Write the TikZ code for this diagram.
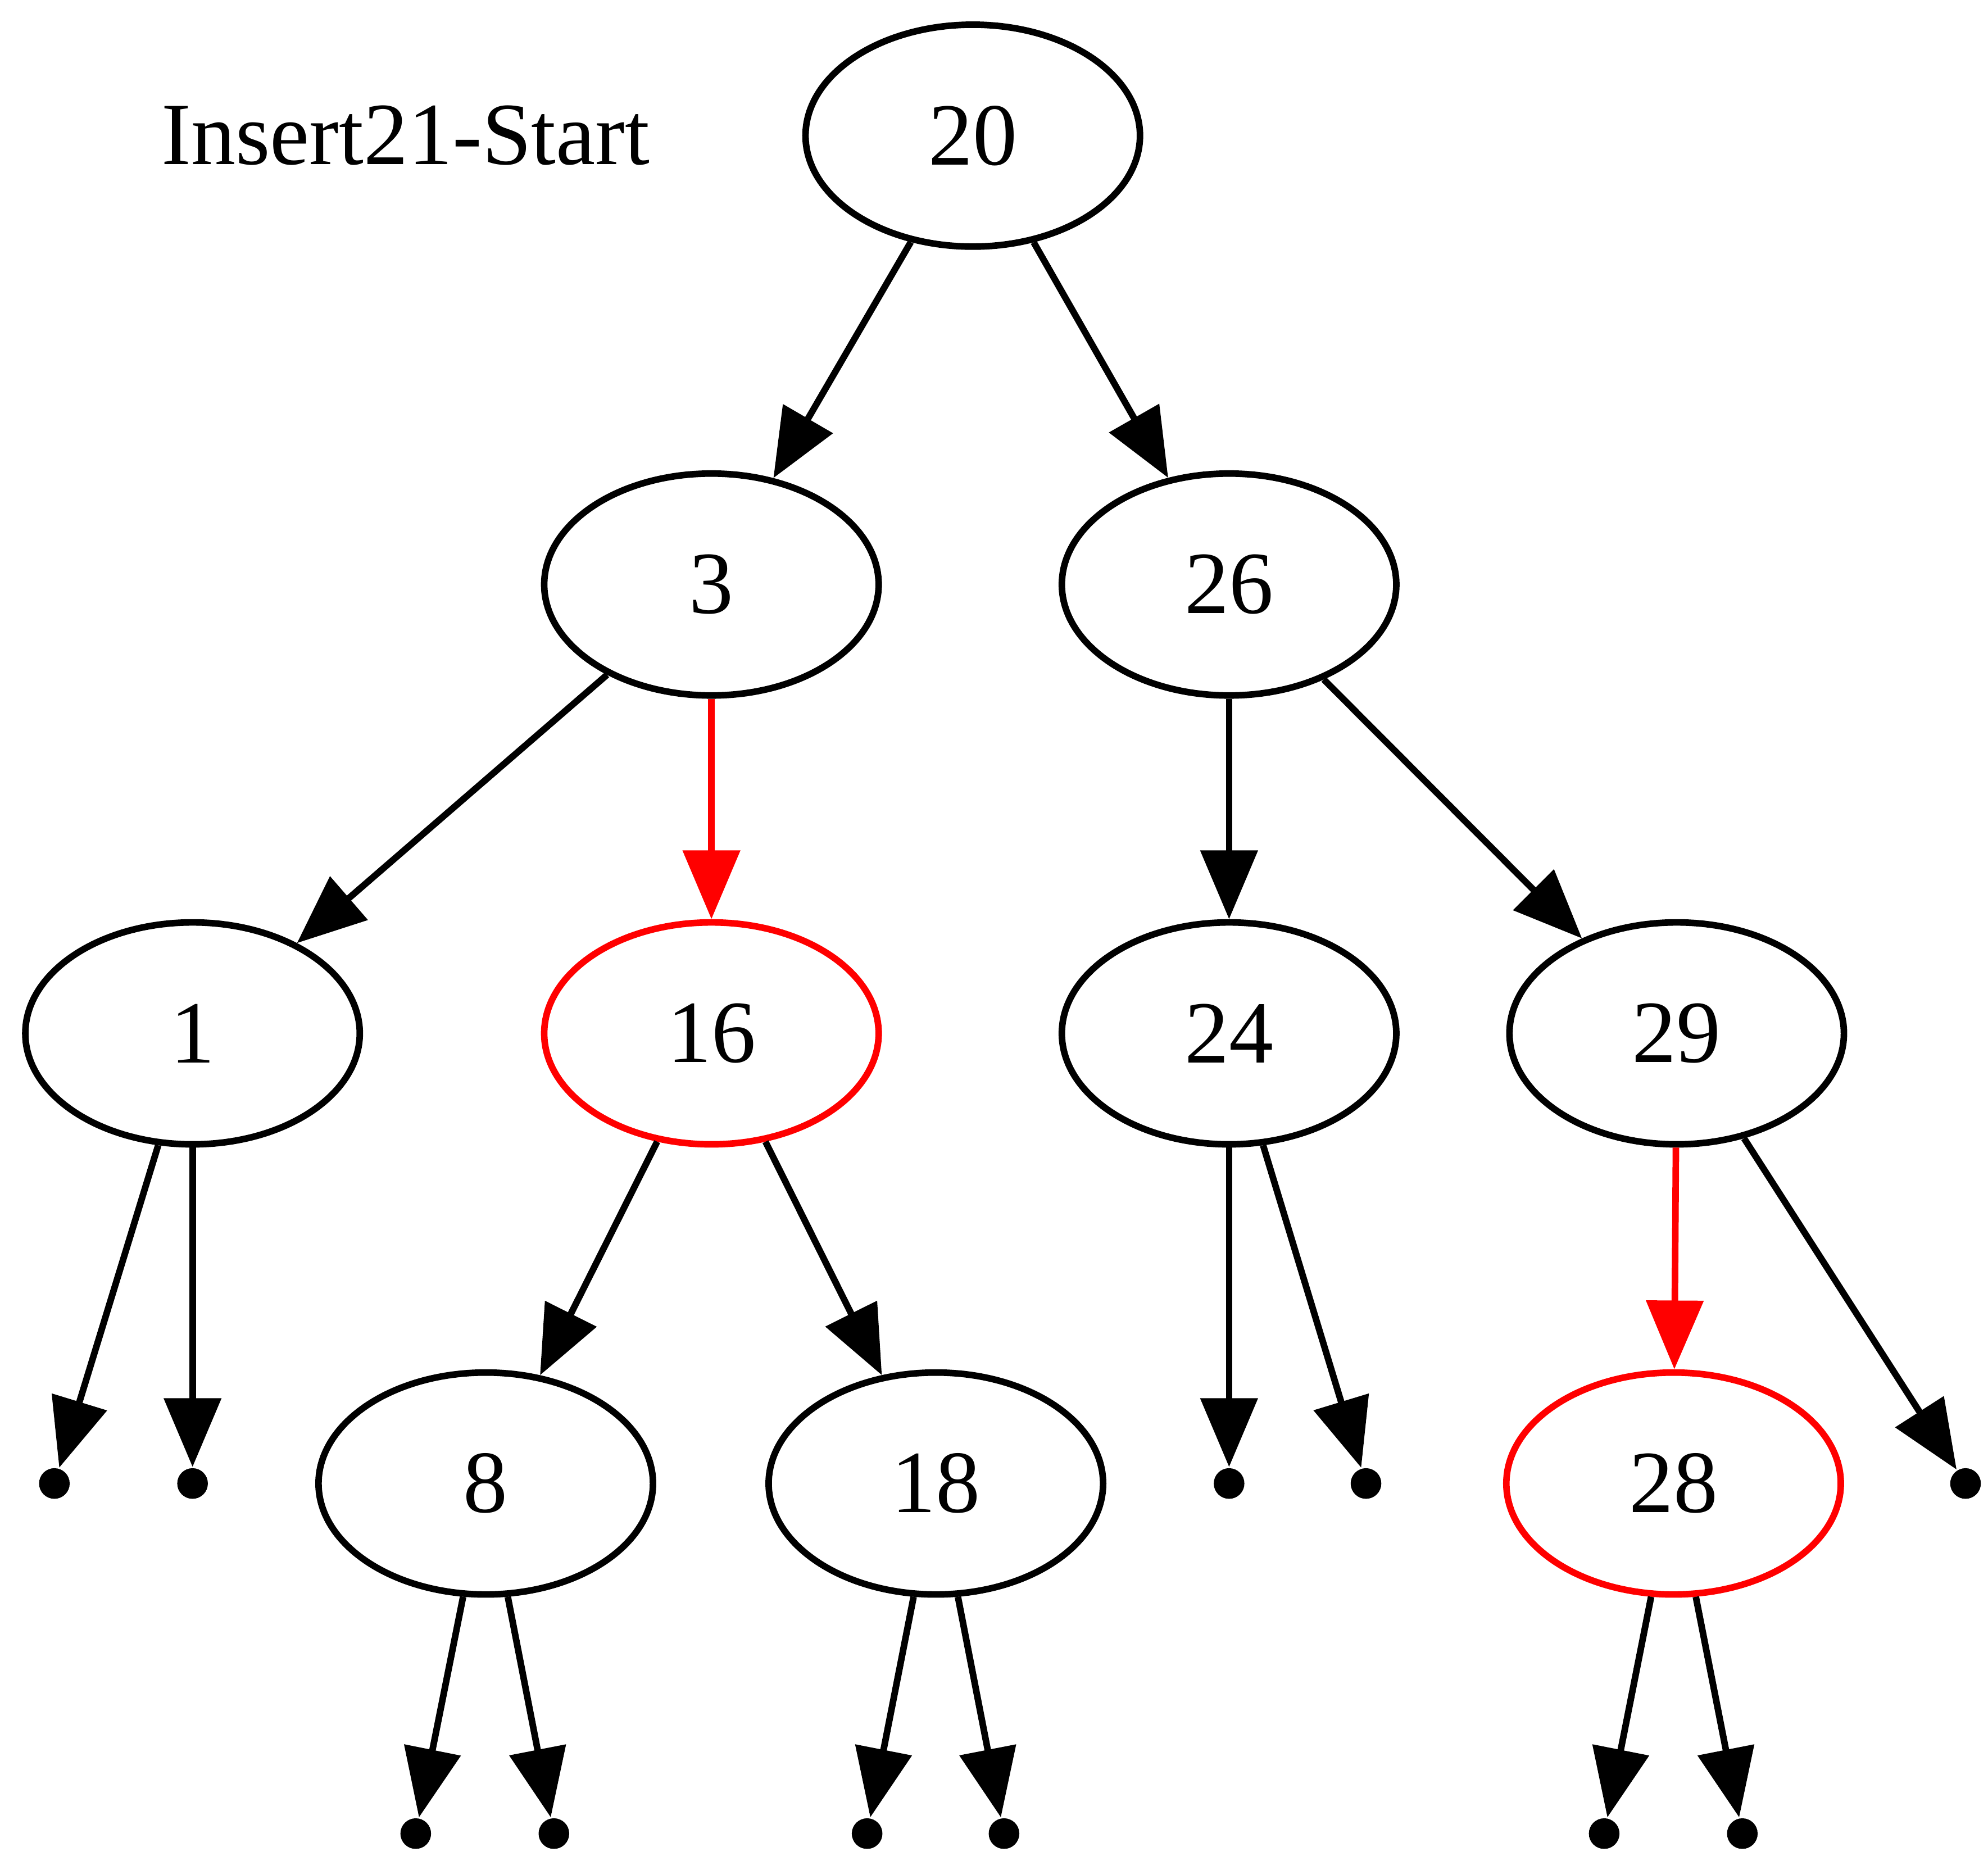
\documentclass[tikz,border=0pt]{standalone}
\usepackage{fontspec}
\setmainfont{Liberation Serif}
\usepackage{xcolor}
\usepackage{tikz}
\usetikzlibrary{arrows.meta,shapes.geometric}
\definecolor{hot}{HTML}{FF0000}

\begin{document}
\begin{tikzpicture}[
  x=1pt, y=-1pt,
  >={Triangle[length=11pt, width=9pt]},
  font=\fontsize{14.2}{16}\selectfont,
  rbnode/.style={ellipse, draw, line width=1.05pt, minimum width=53.5pt,
    minimum height=35.5pt, inner sep=0pt},
  rednode/.style={rbnode, draw=hot},
  nil/.style={circle, fill, inner sep=0pt, minimum size=4.9pt},
  link/.style={->, line width=1.05pt},
  redlink/.style={link, hot},
]
\useasboundingbox (0,0) rectangle (318,299.1);

% ---------- rank rows ----------
\def\ra{21.7}
\def\rb{93.5}
\def\rc{165.3}
\def\rd{237.3}
\def\re{293.3}

% ---------- title ----------
\node[anchor=center] (title) at (64.9,\ra) {Insert21-Start};

% ---------- tree nodes ----------
\node[rbnode] (n20) at (155.6,\ra) {20};
\node[rbnode] (n3) at (113.8,\rb) {3};
\node[rbnode] (n26) at (196.6,\rb) {26};
\node[rbnode] (n1) at (30.8,\rc) {1};
\node[rednode] (n16) at (113.8,\rc) {16};
\node[rbnode] (n24) at (196.6,\rc) {24};
\node[rbnode] (n29) at (268.2,\rc) {29};
\node[rbnode] (n8) at (77.7,\rd) {8};
\node[rbnode] (n18) at (149.7,\rd) {18};
\node[rednode] (n28) at (267.7,\rd) {28};

% ---------- nil leaves ----------
\foreach \k/\x in {a/8.7, b/30.8, c/196.6, d/218.5, e/314.4}
  \node[nil] (nil\k) at (\x,\rd) {};
\foreach \k/\x in {f/66.5, g/88.6, h/138.7, i/160.6, j/256.6, k/278.7}
  \node[nil] (nil\k) at (\x,\re) {};

% ---------- links ----------
\draw[link] (n20) -- (n3);
\draw[link] (n20) -- (n26);
\draw[link] (n3) -- (n1);
\draw[redlink] (n3) -- (n16);
\draw[link] (n26) -- (n24);
\draw[link] (n26) -- (n29);
\draw[link] (n16) -- (n8);
\draw[link] (n16) -- (n18);
\draw[redlink] (n29) -- (n28);
\foreach \p/\c in {n1/nila, n1/nilb, n24/nilc, n24/nild, n29/nile,
                   n8/nilf, n8/nilg, n18/nilh, n18/nili, n28/nilj, n28/nilk}
  \draw[link] (\p) -- (\c);

\end{tikzpicture}
\end{document}
